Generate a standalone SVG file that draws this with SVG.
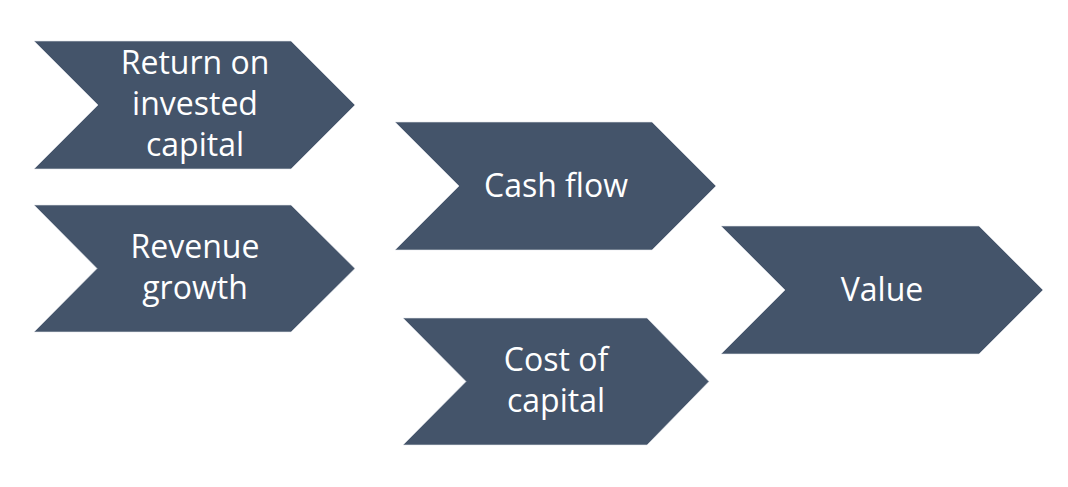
<svg xmlns="http://www.w3.org/2000/svg" width="1068" height="487" viewBox="0 0 1068 487">
  <style>
    .chev { fill: #44546A; stroke: #e6e8ec; stroke-width: 0.6; }
    .lbl { fill: #ffffff; font-family: "Open Sans", "Noto Sans", "Liberation Sans", sans-serif; font-size: 32px; text-anchor: middle; }
  </style>
  <rect x="0" y="0" width="1068" height="487" fill="#ffffff"/>
  <g id="connectors"></g>
  <g id="node-roic">
    <polygon class="chev" points="34,41 291,41 355,105 291,169 34,169 98,105"/>
    <text class="lbl" x="195" y="74">Return on</text>
    <text class="lbl" x="195" y="115">invested</text>
    <text class="lbl" x="195" y="156">capital</text>
  </g>
  <g id="node-revenue">
    <polygon class="chev" points="34,205 291,205 355,268.5 291,332 34,332 97,268.5"/>
    <text class="lbl" x="195" y="258">Revenue</text>
    <text class="lbl" x="195" y="299">growth</text>
  </g>
  <g id="node-cashflow">
    <polygon class="chev" points="395,122 652,122 716,186 652,250 395,250 459,186"/>
    <text class="lbl" x="556" y="197">Cash flow</text>
  </g>
  <g id="node-cost">
    <polygon class="chev" points="403,318 647,318 709,381.5 647,445 403,445 466,381.5"/>
    <text class="lbl" x="556" y="371">Cost of</text>
    <text class="lbl" x="556" y="412">capital</text>
  </g>
  <g id="node-value">
    <polygon class="chev" points="721,226 979,226 1043,290 979,354 721,354 785,290"/>
    <text class="lbl" x="882" y="301">Value</text>
  </g>
</svg>
